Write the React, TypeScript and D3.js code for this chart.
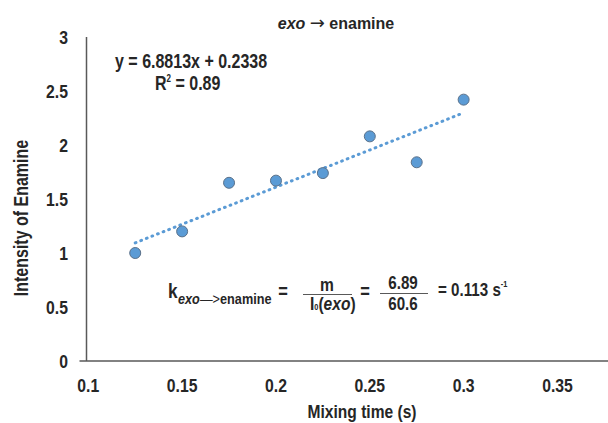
import React from "react";
import * as d3 from "d3";

const xValues = [0.125, 0.15, 0.175, 0.2, 0.225, 0.25, 0.275, 0.3];
const yValues = [1.0, 1.2, 1.65, 1.67, 1.74, 2.08, 1.84, 2.42];
const xTicks = [0.1, 0.15, 0.2, 0.25, 0.3, 0.35];
const yTicks = [0, 0.5, 1, 1.5, 2, 2.5, 3];
const slope = 6.8813;
const intercept = 0.2338;
const equationText = "y = 6.8813x + 0.2338";
const r2Text = "0.89";
const slopeRounded = "6.89";
const i0Value = "60.6";
const kValue = "0.113";

const W = 608;
const H = 423;
const FONT = "'Liberation Sans', Arial, Helvetica, sans-serif";
const AXIS = "#595959";
const BLUE = "#5b9bd5";

function NText(props: {
  x: number; y: number; size: number; sx?: number; anchor?: string;
  weight?: string | number; italic?: boolean; fill?: string; children: React.ReactNode;
}) {
  const { x, y, size, sx = 0.82, anchor = "start", weight = "bold", italic = false, fill = "#262626", children } = props;
  return (
    <g transform={`translate(${x},${y}) scale(${sx},1)`}>
      <text
        textAnchor={anchor as any}
        fontFamily={FONT}
        fontSize={size}
        fontWeight={weight}
        fontStyle={italic ? "italic" : "normal"}
        fill={fill}
      >
        {children}
      </text>
    </g>
  );
}

export default function App() {
  const x = d3.scaleLinear().domain([0.1, 0.4]).range([88.3, 651.3]);
  const y = d3.scaleLinear().domain([0, 3]).range([361, 37]);

  const xMin = d3.min(xValues) as number;
  const xMax = d3.max(xValues) as number;
  const trend = d3
    .line<number>()
    .x((d) => x(d))
    .y((d) => y(slope * d + intercept))([xMin, xMax]) as string;

  const axisX = x(0.1) - 1.8;

  return (
    <svg
      width={W}
      height={H}
      style={{ position: "absolute", left: 0, top: 0, background: "#fff" }}
    >
      <rect x={0} y={0} width={W} height={H} fill="#fff" />
      {/* title */}
      <text x={336} y={29} textAnchor="middle" fontFamily={FONT} fontSize={16} fontWeight="bold" fill="#262626">
        <tspan fontStyle="italic">exo</tspan>
        <tspan> </tspan>
        <tspan fontWeight="normal" fontFamily="'DejaVu Sans', sans-serif" fontSize={18}>→</tspan>
        <tspan> enamine</tspan>
      </text>

      {/* axes */}
      <line x1={axisX} x2={axisX} y1={y(3)} y2={y(0)} stroke={AXIS} strokeWidth={1.5} />
      <line x1={axisX - 7} x2={W} y1={y(0)} y2={y(0)} stroke={AXIS} strokeWidth={1.5} />

      {yTicks.map((t) => (
        <NText key={"y" + t} x={68} y={y(t) + 6.5} size={19} anchor="end" sx={0.83}>
          {String(t)}
        </NText>
      ))}
      {xTicks.map((t) => (
        <NText key={"x" + t} x={x(t)} y={392} size={19} anchor="middle" sx={0.83}>
          {String(t)}
        </NText>
      ))}

      {/* axis titles */}
      <g transform={`translate(28,218) rotate(-90)`}>
        <NText x={0} y={0} size={19.5} anchor="middle">Intensity of Enamine</NText>
      </g>
      <NText x={362} y={418} size={19} anchor="middle">Mixing time (s)</NText>

      {/* trendline */}
      <path d={trend} fill="none" stroke={BLUE} strokeWidth={3} strokeDasharray="0.8 5.2" strokeLinecap="round" />

      {/* points */}
      {xValues.map((v, i) => (
        <circle key={i} cx={x(v)} cy={y(yValues[i])} r={5.5} fill={BLUE} stroke="#5a718a" strokeWidth={1} />
      ))}

      {/* equation */}
      <NText x={115} y={68} size={20} sx={0.8}>{equationText}</NText>
      <NText x={155} y={90} size={20} sx={0.8}>
        <tspan>R</tspan>
        <tspan fontSize={10} dy={-8}>2</tspan>
        <tspan dy={8}>{" = " + r2Text}</tspan>
      </NText>

      {/* rate constant formula */}
      <NText x={168} y={298} size={21}>k</NText>
      <NText x={178} y={304} size={15.5}>
        <tspan fontStyle="italic">exo</tspan>
        <tspan fontWeight="normal">—&gt;</tspan>
        <tspan>enamine</tspan>
      </NText>
      <NText x={283} y={298} size={20} anchor="middle">=</NText>
      <NText x={327} y={291} size={19} anchor="middle">m</NText>
      <line x1={303} x2={352} y1={294.5} y2={294.5} stroke="#595959" strokeWidth={1} />
      <NText x={310} y={310} size={19}>
        <tspan>I</tspan>
        <tspan fontSize={9}>0</tspan>
        <tspan>(</tspan>
        <tspan fontStyle="italic">exo</tspan>
        <tspan>)</tspan>
      </NText>
      <NText x={365} y={298} size={20} anchor="middle">=</NText>
      <NText x={403} y={289} size={18.5} anchor="middle">{slopeRounded}</NText>
      <line x1={380} x2={428} y1={293.5} y2={293.5} stroke="#595959" strokeWidth={1} />
      <NText x={403} y={310} size={18.5} anchor="middle">{i0Value}</NText>
      <NText x={438} y={296} size={18.5}>
        <tspan>{"= " + kValue + " s"}</tspan>
        <tspan fontSize={9} dy={-9}>-1</tspan>
      </NText>
    </svg>
  );
}
